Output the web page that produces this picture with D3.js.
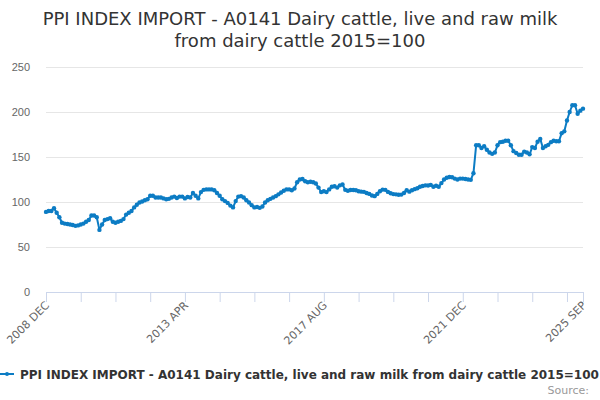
<!DOCTYPE html>
<html>
<head>
<meta charset="utf-8">
<script src="https://cdn.jsdelivr.net/npm/d3@7"></script>
<style>
  body { margin: 0; background: #fff; }
  svg { font-family: "DejaVu Sans", Verdana, sans-serif; display: block; }
</style>
</head>
<body>
<div id="chart"></div>
<script>
const titleLines = ["PPI INDEX IMPORT - A0141 Dairy cattle, live and raw milk", "from dairy cattle 2015=100"]
const seriesName = "PPI INDEX IMPORT - A0141 Dairy cattle, live and raw milk from dairy cattle 2015=100"
const monthNames = ["JAN", "FEB", "MAR", "APR", "MAY", "JUN", "JUL", "AUG", "SEP", "OCT", "NOV", "DEC"]
const startYear = 2008
const startMonth = 11 // DEC
const tickLabels = ["2008 DEC", "2013 APR", "2017 AUG", "2021 DEC", "2025 SEP"]
const yTicks = [0, 50, 100, 150, 200, 250]

// monthly index values, Dec 2008 .. Sep 2025
const values = [
  89, 90, 90, 93, 88, 83, 77, 76, 75.5, 75, 74.5, 73.5,
  74, 75, 76, 78, 80, 85, 85, 83, 69, 75, 80, 81,
  82, 78, 77, 78, 79, 81, 86, 88, 90, 94, 97, 99.5,
  100.5, 102, 103, 107, 107, 105, 105, 105, 104, 103, 103.5, 105,
  106, 104.5, 106, 106, 104, 105.5, 105, 110, 107, 104, 111, 113.5,
  114, 114, 114, 113, 110, 107, 103, 101, 99, 96, 94, 101,
  106, 106.5, 105, 102, 99.5, 96.5, 94, 94.5, 93.5, 95, 99.5, 102,
  103.5, 105, 106.5, 108.5, 110.5, 112.5, 114, 114, 113, 115, 122, 125,
  125.5, 123, 122, 122.5, 122, 120.5, 116, 111, 112, 111, 114, 117,
  117.5, 116, 118.5, 119.5, 113.5, 112.5, 113.3, 113.3, 113, 112, 111.5, 111.3,
  110, 109, 107.3, 106.5, 109, 112, 113.8, 113.5, 111.2, 109.8, 108.8, 108.5,
  108, 108.2, 110, 113, 111.5, 113, 114.3, 115.3, 117, 117.8, 118.5, 118.3,
  119, 117, 118, 117, 121, 125, 127, 127.7, 127.5, 126, 125, 126,
  126, 125.5, 125, 124.6, 132, 163, 163, 160, 162, 158, 155, 153.5,
  155, 163, 166.5, 167, 168, 168, 163, 156.5, 154.5, 152.5, 152.5, 156,
  155, 153, 161, 160, 167, 170, 160, 162, 163.5, 166.5, 168, 167.5,
  167.5, 176.5, 178.5, 190.5, 200, 207.5, 207.5, 198, 201.5, 203.7
]

const categories = values.map((_, i) => {
  const m = startMonth + i
  return `${startYear + Math.floor(m / 12)} ${monthNames[m % 12]}`
})

const width = 600
const height = 400
const margin = { top: 67, right: 17, bottom: 108, left: 46 }
const color = "#0c7cc4"

const svg = d3.select("#chart")
  .append("svg")
  .attr("width", width)
  .attr("height", height)

// Title
svg.append("text")
  .attr("x", width / 2)
  .attr("y", 25)
  .attr("text-anchor", "middle")
  .attr("fill", "#333")
  .style("font-size", "18px")
  .selectAll("tspan")
  .data(titleLines)
  .join("tspan")
  .attr("x", width / 2)
  .attr("dy", (d, i) => i === 0 ? 0 : 22)
  .text(d => d)

const x = d3.scaleLinear()
  .domain([0, values.length - 1])
  .range([margin.left, width - margin.right])

const y = d3.scaleLinear()
  .domain([0, 250])
  .range([height - margin.bottom, margin.top])

// Gridlines + y labels
svg.append("g")
  .attr("transform", `translate(${margin.left},0)`)
  .call(d3.axisLeft(y).tickValues(yTicks).tickSize(-(width - margin.left - margin.right)).tickPadding(16))
  .call(g => g.select(".domain").remove())
  .call(g => g.selectAll(".tick line").attr("stroke", "#e6e6e6"))
  .call(g => g.selectAll(".tick text").attr("fill", "#666").style("font-size", "11px"))

// X axis
const tickIdx = d3.range(0, values.length, 13).concat([values.length - 1])
const xAxis = svg.append("g")
  .attr("transform", `translate(0,${height - margin.bottom})`)
  .call(d3.axisBottom(x).tickValues(tickIdx).tickSize(10).tickFormat(""))
xAxis.select(".domain").attr("stroke", "#ccd6eb")
xAxis.selectAll(".tick line").attr("stroke", "#ccd6eb")

svg.append("g")
  .selectAll("text")
  .data(tickLabels)
  .join("text")
  .attr("transform", d => `translate(${x(categories.indexOf(d)) + 4},${height - margin.bottom + 14}) rotate(-45)`)
  .attr("text-anchor", "end")
  .attr("fill", "#666")
  .style("font-size", "11px")
  .text(d => d)

// Series
const line = d3.line()
  .x((d, i) => x(i))
  .y(d => y(d))

svg.append("path")
  .datum(values)
  .attr("fill", "none")
  .attr("stroke", color)
  .attr("stroke-width", 2)
  .attr("stroke-linejoin", "round")
  .attr("d", line)

svg.append("g")
  .selectAll("circle")
  .data(values)
  .join("circle")
  .attr("cx", (d, i) => x(i))
  .attr("cy", d => y(d))
  .attr("r", 2.2)
  .attr("fill", color)

// Legend
const legend = svg.append("g").attr("transform", "translate(0,374)")
legend.append("line")
  .attr("x1", 0).attr("x2", 14)
  .attr("stroke", color).attr("stroke-width", 2)
legend.append("circle")
  .attr("cx", 7).attr("r", 2).attr("fill", color)
legend.append("text")
  .attr("x", 20)
  .attr("y", 4.5)
  .attr("fill", "#333")
  .style("font-size", "12px")
  .style("font-weight", "bold")
  .text(seriesName)

svg.append("text")
  .attr("x", 589)
  .attr("y", 394)
  .attr("text-anchor", "end")
  .attr("fill", "#999")
  .style("font-size", "11px")
  .text("Source:")
</script>
</body>
</html>
